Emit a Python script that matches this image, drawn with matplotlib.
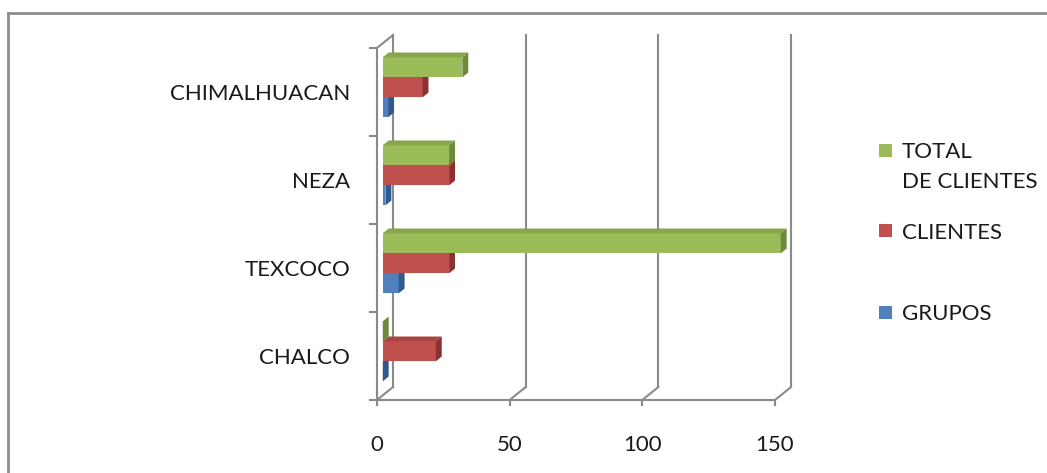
import matplotlib
matplotlib.use("Agg")
import matplotlib.pyplot as plt
from matplotlib.patches import Polygon, Rectangle
from matplotlib.lines import Line2D

# ---- data ----
categories = ["CHALCO", "TEXCOCO", "NEZA", "CHIMALHUACAN"]
grupos = [0, 6, 1, 2]
clientes = [20, 25, 25, 15]
total_clientes = [0, 150, 25, 30]
x_ticks = [0, 50, 100, 150]

# ---- style ----
plt.rcParams["font.family"] = ["Lato", "DejaVu Sans"]
GRID = "#8a8a8a"
LW = 1.5
FS = 16
TXT = "#1a1a1a"
faces = {
    "GRUPOS": ("#4F81BD", "#4573AA", "#2E5A8F"),
    "CLIENTES": ("#C0504D", "#A84541", "#8A3230"),
    "TOTAL": ("#9BBB59", "#86A64A", "#6C8A3A"),
}

W, H = 1047, 473
fig = plt.figure(figsize=(W / 100, H / 100), dpi=100)
fig.patch.set_facecolor("white")

# chart frame (top and left edges)
fig.add_artist(Line2D([8 / W, 8 / W], [0, 1 - 13 / H], transform=fig.transFigure,
                      color="#8c8c8c", lw=2))
fig.add_artist(Line2D([8 / W, 1], [1 - 13 / H, 1 - 13 / H], transform=fig.transFigure,
                      color="#8c8c8c", lw=2))

ax = fig.add_axes([377 / W, (H - 400) / H, (775 - 377) / W, (400 - 48) / H])
ax.set_xlim(0, 150)
ax.set_ylim(-0.5, 3.5)
ax.set_facecolor("none")

# oblique depth of the plot box
px_x = (775 - 377) / 150.0
px_y = (400 - 48) / 4.0
DX = 16 / px_x
DY = 13 / px_y

# back wall gridlines and floor diagonals
for t in x_ticks:
    ax.add_line(Line2D([t + DX, t + DX], [-0.5 + DY, 3.5 + DY], color=GRID, lw=LW,
                       clip_on=False, zorder=1))
    ax.add_line(Line2D([t, t + DX], [-0.5, -0.5 + DY], color=GRID, lw=LW,
                       clip_on=False, zorder=1))
ax.add_line(Line2D([0, DX], [3.5, 3.5 + DY], color=GRID, lw=LW, clip_on=False, zorder=1))

# 3-D bars: front face by barh, top and side faces as polygons
f0, f1 = 0.36, 0.73
bar_h = 20 / px_y
series = [("GRUPOS", grupos, -bar_h), ("CLIENTES", clientes, 0.0),
          ("TOTAL", total_clientes, bar_h)]
z = 3
for i, cat in enumerate(categories):
    for name, vals, off in series:
        v = vals[i]
        front, top, side = faces[name]
        x0 = f0 * DX
        yc = i + off + f0 * DY
        y0, y1 = yc - bar_h / 2, yc + bar_h / 2
        ddx = (f1 - f0) * DX
        ddy = (f1 - f0) * DY
        ax.barh(yc, v, height=bar_h, left=x0, color=front, edgecolor="none",
                zorder=z, clip_on=False)
        ax.add_patch(Polygon([(x0, y1), (x0 + v, y1), (x0 + v + ddx, y1 + ddy),
                              (x0 + ddx, y1 + ddy)], closed=True, facecolor=top,
                             edgecolor="none", zorder=z, clip_on=False))
        ax.add_patch(Polygon([(x0 + v, y0), (x0 + v + ddx, y0 + ddy),
                              (x0 + v + ddx, y1 + ddy), (x0 + v, y1)], closed=True,
                             facecolor=side, edgecolor="none", zorder=z, clip_on=False))
        z += 1

# axes styling
for s in ("top", "right"):
    ax.spines[s].set_visible(False)
for s in ("left", "bottom"):
    ax.spines[s].set_color(GRID)
    ax.spines[s].set_linewidth(LW)
    ax.spines[s].set_zorder(2)

ax.set_xticks(x_ticks)
ax.set_xticklabels([str(t) for t in x_ticks])
ax.tick_params(axis="x", length=4, width=LW, color=GRID, pad=21, labelsize=FS,
               labelcolor=TXT)
ax.set_yticks(range(len(categories)))
ax.set_yticklabels(categories)
ax.set_yticks([k - 0.5 for k in range(len(categories) + 1)], minor=True)
ax.tick_params(axis="y", which="major", length=0, pad=19.5, labelsize=FS,
               labelcolor=TXT)
ax.tick_params(axis="y", which="minor", length=6, width=LW, color=GRID)

# legend
legend_items = [("TOTAL\nDE CLIENTES", faces["TOTAL"][0], 150),
                ("CLIENTES", faces["CLIENTES"][0], 231),
                ("GRUPOS", faces["GRUPOS"][0], 312)]
for label, col, yp in legend_items:
    fig.add_artist(Rectangle((879 / W, 1 - (yp + 6.5) / H), 13 / W, 13 / H,
                             transform=fig.transFigure, facecolor=col, edgecolor="none"))
    fig.text(902 / W, 1 - (yp - 8) / H, label, ha="left", va="top", fontsize=FS,
             color=TXT, linespacing=1.65)

fig.savefig("out.png", dpi=100, facecolor="white")
